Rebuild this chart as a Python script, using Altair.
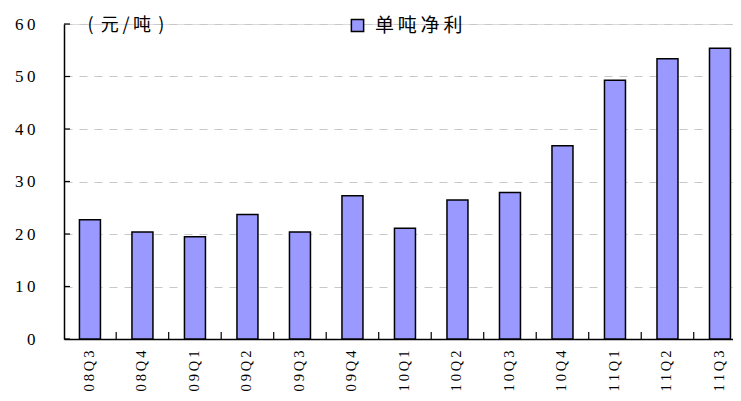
import altair as alt
import pandas as pd

quarters = ["08Q3", "08Q4", "09Q1", "09Q2", "09Q3", "09Q4", "10Q1",
            "10Q2", "10Q3", "10Q4", "11Q1", "11Q2", "11Q3"]
profit = [22.7, 20.4, 19.5, 23.7, 20.4, 27.3, 21.1, 26.5, 27.9, 36.8, 49.3, 53.4, 55.4]
series_name = "单吨净利"
unit_label = "(\u2009\u2009元\u2009/\u2009吨\u2009\u2009)"
y_ticks = [0, 10, 20, 30, 40, 50, 60]

df = pd.DataFrame({"quarter": quarters, "value": profit, "series": series_name})
tick_df = pd.DataFrame({"value": y_ticks})
q_df = pd.DataFrame({"quarter": quarters})

W, H = 669, 315
STEP = 52.5
SERIF = "Liberation Serif"
CJK = "Noto Sans CJK SC"
spaced = "join(split(datum.label, ''), '\u2009')"

x_scale = alt.Scale(domain=quarters, paddingInner=0.6, paddingOuter=0.171, align=0.86)
y_scale = alt.Scale(domain=[0, 60], nice=False)

x_axis = alt.Axis(orient="bottom", title=None, labelAngle=270,
                  labelFont=SERIF, labelFontSize=14.5, labelColor="black",
                  labelPadding=11, ticks=False, tickSize=0,
                  domainColor="black", domainWidth=1.5,
                  labelExpr=spaced, grid=False)
y_axis = alt.Axis(orient="left", values=y_ticks, title=unit_label,
                  titleAngle=0, titleX=23, titleY=1, titleAlign="left",
                  titleBaseline="middle", titleFont=CJK, titleFontSize=18,
                  titleFontWeight="normal", titleColor="black",
                  labelFont=SERIF, labelFontSize=17, labelColor="black",
                  labelPadding=29, ticks=False, tickSize=0,
                  domainColor="black", domainWidth=1.5,
                  labelExpr=spaced,
                  grid=True, gridColor="#c8c8c8", gridDash=[8, 7],
                  gridWidth=1.2)

bars = alt.Chart(df).mark_bar(stroke="black", strokeWidth=1.5).encode(
    x=alt.X("quarter:N", sort=quarters, scale=x_scale, axis=x_axis),
    y=alt.Y("value:Q", scale=y_scale, axis=y_axis),
    fill=alt.Fill("series:N", scale=alt.Scale(range=["#9999FF"]),
                  legend=alt.Legend(title=None, orient="none", legendX=284, legendY=-8,
                                    symbolType="square", symbolSize=150,
                                    symbolStrokeColor="black", symbolStrokeWidth=1.5,
                                    symbolFillColor="#9999FF",
                                    labelFont=CJK, labelFontSize=19, labelColor="black",
                                    labelExpr=spaced, labelOffset=8)),
)

y_tick_marks = alt.Chart(tick_df).mark_rule(color="black", strokeWidth=1.2).encode(
    y=alt.Y("value:Q", scale=y_scale, axis=y_axis),
    x=alt.value(0),
    x2=alt.value(6),
)

x_tick_marks = alt.Chart(q_df).mark_rule(color="black", strokeWidth=1.2, xOffset=STEP / 2).encode(
    x=alt.X("quarter:N", sort=quarters, scale=x_scale, axis=x_axis),
    y=alt.value(H),
    y2=alt.value(H - 7),
)

chart = alt.layer(bars, y_tick_marks, x_tick_marks).properties(
    width=W, height=H,
    autosize=alt.AutoSizeParams(type="none"),
    padding={"left": 56, "top": 16, "right": 0, "bottom": 54},
).configure_view(stroke=None).configure(background="white")

chart.save("out.html", embed_options={"renderer": "svg", "actions": False})
